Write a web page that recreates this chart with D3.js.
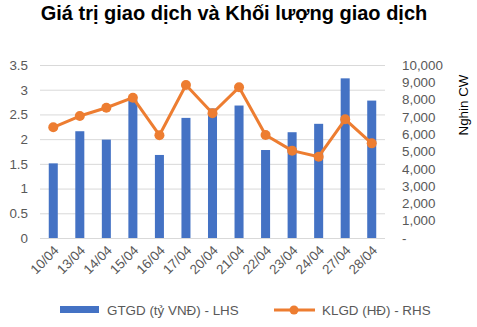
<!DOCTYPE html>
<html><head><meta charset="utf-8">
<script src="https://cdn.jsdelivr.net/npm/d3@7"></script>
<style>body{margin:0;background:#fff;} text{font-family:"Liberation Sans",Arial,sans-serif;}</style>
</head><body>
<svg id="c" width="477" height="327"></svg>
<script>
const categories = ["10/04","13/04","14/04","15/04","16/04","17/04","20/04","21/04","22/04","23/04","24/04","27/04","28/04"];
const gtgd = [1.51,2.16,1.99,2.79,1.68,2.43,2.62,2.68,1.78,2.14,2.31,3.23,2.78];
const klgd = [6400,7050,7530,8110,5940,8840,7210,8710,5950,5050,4700,6860,5470];
const leftTicks = [0,0.5,1,1.5,2,2.5,3,3.5];
const rightTicks = [0,1000,2000,3000,4000,5000,6000,7000,8000,9000,10000];

const svg = d3.select("#c");
const L = 40, R = 385, T = 65, B = 238;
const x = d3.scaleBand().domain(categories).range([L, R]).paddingInner(0.66).paddingOuter(0.33);
const yL = d3.scaleLinear().domain([0,3.5]).range([B,T]);
const yR = d3.scaleLinear().domain([0,10000]).range([B,T]);
const grey = "#595959";
const fs = 13.4;

svg.append("text").attr("x",234).attr("y",20).attr("text-anchor","middle")
  .attr("font-size",20).attr("font-weight","bold").attr("fill","#000")
  .text("Giá trị giao dịch và Khối lượng giao dịch");

// gridlines
svg.append("g").selectAll("line").data(leftTicks).join("line")
  .attr("x1",L).attr("x2",R).attr("y1",d=>yL(d)+0.5).attr("y2",d=>yL(d)+0.5)
  .attr("stroke","#d9d9d9").attr("stroke-width",1);

// left axis
const ax = svg.append("g").attr("transform",`translate(${L-12},0)`)
  .call(d3.axisLeft(yL).tickValues(leftTicks).tickSize(0).tickPadding(0).tickFormat(d=>String(d)));
ax.select(".domain").remove();
ax.selectAll("text").attr("font-size",fs).attr("fill",grey).style("font-family","Liberation Sans, Arial, sans-serif");

// right axis
const ar = svg.append("g").attr("transform",`translate(${R+17},0)`)
  .call(d3.axisRight(yR).tickValues(rightTicks).tickSize(0).tickPadding(0)
  .tickFormat(d=> d===0 ? "-" : d3.format(",")(d)));
ar.select(".domain").remove();
ar.selectAll("text").attr("font-size",fs).attr("fill",grey).style("font-family","Liberation Sans, Arial, sans-serif");

svg.append("text").attr("transform","translate(468,105) rotate(-90)").attr("text-anchor","middle")
  .attr("font-size",fs).attr("fill","#000").text("Nghin CW");

// bars
svg.append("g").selectAll("rect").data(gtgd).join("rect")
  .attr("x",(d,i)=>x(categories[i])).attr("width",x.bandwidth())
  .attr("y",d=>yL(d)).attr("height",d=>B-yL(d)).attr("fill","#4472C4");

// line
const cx = (d,i)=>x(categories[i])+x.bandwidth()/2;
svg.append("path").datum(klgd).attr("fill","none").attr("stroke","#ED7D31").attr("stroke-width",3)
  .attr("stroke-linejoin","round")
  .attr("d", d3.line().x(cx).y(d=>yR(d)));
svg.append("g").selectAll("circle").data(klgd).join("circle")
  .attr("cx",cx).attr("cy",d=>yR(d)).attr("r",5).attr("fill","#ED7D31");

// x labels
svg.append("g").selectAll("text").data(categories).join("text")
  .attr("transform",d=>`translate(${x(d)+x.bandwidth()/2+3},${B+10}) rotate(-45)`)
  .attr("text-anchor","end").attr("dy","0.35em").attr("font-size",fs).attr("fill",grey).text(d=>d);

// legend
const lg = svg.append("g");
lg.append("rect").attr("x",60).attr("y",306).attr("width",39).attr("height",7).attr("fill","#4472C4");
lg.append("text").attr("x",107).attr("y",315).attr("font-size",fs).attr("fill",grey).text("GTGD (tỷ VNĐ) - LHS");
lg.append("line").attr("x1",274).attr("x2",315).attr("y1",310).attr("y2",310).attr("stroke","#ED7D31").attr("stroke-width",3);
lg.append("circle").attr("cx",294).attr("cy",310).attr("r",4.5).attr("fill","#ED7D31");
lg.append("text").attr("x",322).attr("y",315).attr("font-size",fs).attr("fill",grey).text("KLGD (HĐ) - RHS");
</script>
</body></html>
